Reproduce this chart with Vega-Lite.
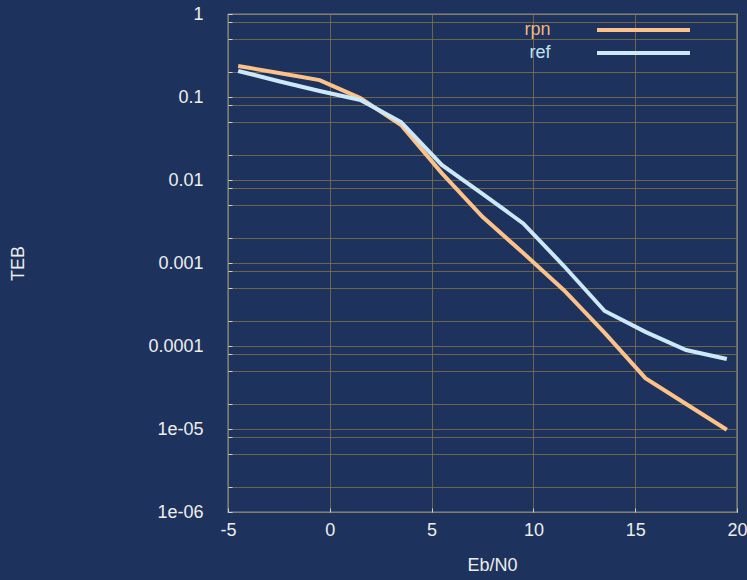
{
  "$schema": "https://vega.github.io/schema/vega-lite/v6.json",
  "autosize": "none",
  "width": 509,
  "height": 498,
  "padding": {"left": 228, "top": 14, "right": 10, "bottom": 68},
  "background": "#1d335d",
  "config": {
    "font": "Liberation Sans",
    "view": {"stroke": "#dcdcdc", "strokeWidth": 1.2},
    "axis": {"labelColor": "#eeeeee", "titleColor": "#eeeeee", "labelFontSize": 18, "titleFontSize": 18, "titleFontWeight": "normal", "domain": false, "gridColor": "#7a6e48", "gridOpacity": 0.85, "gridWidth": 1, "tickColor": "#cfcfcf"}
  },
  "data": {"values": [
    {"ebn0": -4.5, "teb": 0.236, "series": "rpn"},
    {"ebn0": -2.5, "teb": 0.195, "series": "rpn"},
    {"ebn0": -0.5, "teb": 0.16, "series": "rpn"},
    {"ebn0": 1.5, "teb": 0.097, "series": "rpn"},
    {"ebn0": 3.5, "teb": 0.046, "series": "rpn"},
    {"ebn0": 5.5, "teb": 0.0121, "series": "rpn"},
    {"ebn0": 7.5, "teb": 0.0036, "series": "rpn"},
    {"ebn0": 9.5, "teb": 0.00132, "series": "rpn"},
    {"ebn0": 11.5, "teb": 0.00047, "series": "rpn"},
    {"ebn0": 13.5, "teb": 0.000144, "series": "rpn"},
    {"ebn0": 15.5, "teb": 0.000041, "series": "rpn"},
    {"ebn0": 17.5, "teb": 0.00002, "series": "rpn"},
    {"ebn0": 19.5, "teb": 0.0000098, "series": "rpn"},
    {"ebn0": -4.5, "teb": 0.206, "series": "ref"},
    {"ebn0": -2.5, "teb": 0.155, "series": "ref"},
    {"ebn0": -0.5, "teb": 0.118, "series": "ref"},
    {"ebn0": 1.5, "teb": 0.092, "series": "ref"},
    {"ebn0": 3.5, "teb": 0.05, "series": "ref"},
    {"ebn0": 5.5, "teb": 0.0152, "series": "ref"},
    {"ebn0": 7.5, "teb": 0.0068, "series": "ref"},
    {"ebn0": 9.5, "teb": 0.003, "series": "ref"},
    {"ebn0": 11.5, "teb": 0.00092, "series": "ref"},
    {"ebn0": 13.5, "teb": 0.000264, "series": "ref"},
    {"ebn0": 15.5, "teb": 0.000148, "series": "ref"},
    {"ebn0": 17.5, "teb": 0.0000895, "series": "ref"},
    {"ebn0": 19.5, "teb": 0.0000697, "series": "ref"}
  ]},
  "mark": {"type": "line", "strokeWidth": 4, "strokeJoin": "miter"},
  "encoding": {
    "x": {
      "field": "ebn0", "type": "quantitative", "title": "Eb/N0",
      "scale": {"domain": [-5, 20], "nice": false, "zero": false},
      "axis": {"values": [-5, 0, 5, 10, 15, 20], "labelExpr": "'' + datum.value", "labelPadding": 13, "tickSize": -4, "titleX": 264, "titleY": 53, "titleBaseline": "middle", "labelFlush": false}
    },
    "y": {
      "field": "teb", "type": "quantitative", "title": "TEB",
      "scale": {"type": "log", "domain": [0.000001, 1], "nice": false},
      "axis": {
        "values": [1, 0.8, 0.5, 0.2, 0.1, 0.08, 0.05, 0.02, 0.01, 0.008, 0.005, 0.002, 0.001, 0.0008, 0.0005, 0.0002, 0.0001, 0.00008, 0.00005, 0.00002, 0.00001, 0.000008, 0.000005, 0.000002, 0.000001],
        "labelExpr": "datum.value == 0.00001 ? '1e-05' : datum.value == 0.000001 ? '1e-06' : indexof([1, 0.1, 0.01, 0.001, 0.0001], datum.value) >= 0 ? '' + datum.value : ''",
        "labelPadding": 29, "tickSize": -4, "labelFlush": false,
        "titleX": -210, "titleY": 249, "titleAngle": -90, "titleBaseline": "middle", "titleAlign": "center"
      }
    },
    "color": {
      "field": "series", "type": "nominal",
      "scale": {"domain": ["rpn", "ref"], "range": ["#fdc28a", "#cbe9fa"]},
      "legend": {
        "title": null, "orient": "none", "legendX": 360, "legendY": 7,
        "symbolType": "M-15.5,0H15.5", "symbolSize": 36, "symbolStrokeWidth": 4, "symbolOffset": 46.5,
        "rowPadding": 5,
        "labelFontSize": 18, "labelAlign": "right", "labelOffset": -102,
        "encode": {"labels": {"update": {"fill": {"signal": "datum.value == 'rpn' ? '#f4b57c' : '#c2e2f3'"}}}}
      }
    }
  }
}
